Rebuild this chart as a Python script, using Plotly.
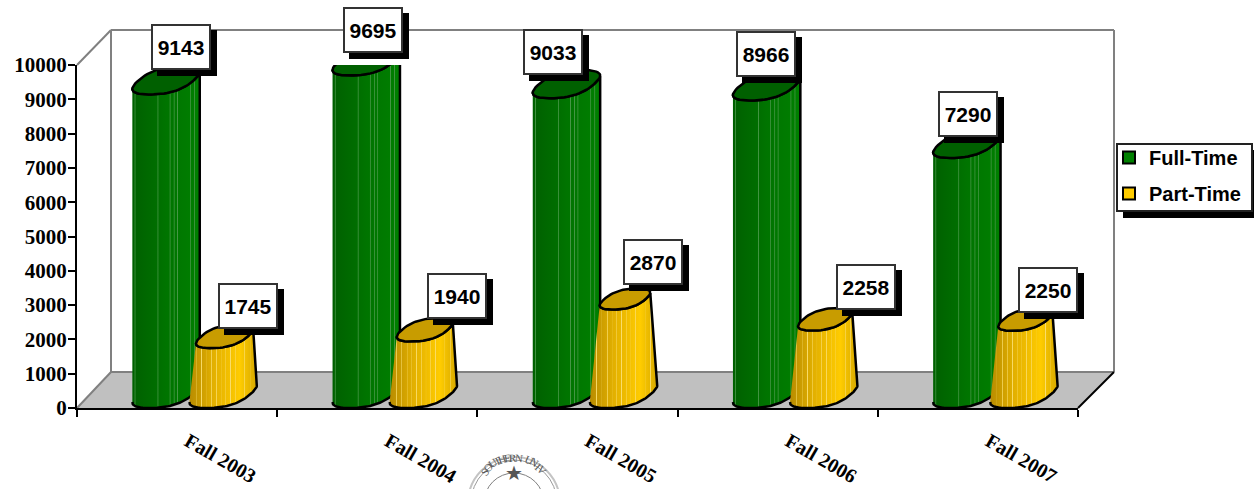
import numpy as np
import plotly.graph_objects as go

# Values
categories = ["Fall 2003", "Fall 2004", "Fall 2005", "Fall 2006", "Fall 2007"]
full_time = [9143, 9695, 9033, 8966, 7290]
part_time = [1745, 1940, 2870, 2258, 2250]
y_ticks = [0, 1000, 2000, 3000, 4000, 5000, 6000, 7000, 8000, 9000, 10000]

# Label box offsets from the bar's front top, in pixels
full_dx = [15, 7, -13, -1, 1]
full_dy = [47, 45, 46, 46, 44]
part_dx = [25, 34, 29, 42, 24]
part_dy = [42, 45, 48, 44, 41]

# Plot area in pixels
W, H = 1254, 489
LEFT, RIGHT, TOP, BOTTOM = 77, 1078, 65, 408
PX_X = 5 / (RIGHT - LEFT)  # x units per pixel
PX_Y = 10000 / (BOTTOM - TOP)  # y units per pixel
DEPTH_X, DEPTH_Y = 34, 36

FONT_SANS = "Liberation Sans"
FONT_SERIF = "Liberation Serif"


def paper_x(px):
    return (px - LEFT) / (RIGHT - LEFT)


def paper_y(py):
    return (BOTTOM - py) / (BOTTOM - TOP)


def path(points):
    return "M" + " L".join(f"{paper_x(a):.5f},{paper_y(b):.5f}" for a, b in points) + " Z"


def arc(cx, level, scale, t0, t1):
    # squarish sheared ellipse for the bar caps, level is its front edge
    t = np.radians(np.linspace(t0, t1, 60))
    c = np.sign(np.cos(t)) * np.abs(np.cos(t)) ** 0.8
    s = np.sign(np.sin(t)) * np.abs(np.sin(t)) ** 0.8
    xs = cx + scale * (27.5 * PX_X * c + 16 * PX_X * s)
    ys = level + scale * 14 * PX_Y * (1 + s)
    return xs, ys


def stripes(base, light, places):
    # horizontal gradient with thin pale lines over it
    xs = [s[0] for s in base]
    rgb = np.array([s[1] for s in base], dtype=float)
    out = []
    for p, w in places:
        for q in (p - w, p + w):
            col = [np.interp(q, xs, rgb[:, i]) for i in range(3)]
            out.append((q, col))
        out.append((p, light))
    for s in base:
        out.append((s[0], s[1]))
    out.sort(key=lambda v: v[0])
    return [[float(a), "rgb(%d,%d,%d)" % tuple(c)] for a, c in out]


green_scale = stripes(
    [(0, (0, 96, 0)), (0.5, (0, 116, 0)), (1, (0, 128, 0))],
    (70, 150, 70),
    [(0.04, 0.012), (0.38, 0.012), (0.56, 0.012), (0.62, 0.012), (0.67, 0.012), (0.86, 0.012), (0.92, 0.012)],
)
yellow_scale = stripes(
    [(0, (184, 140, 0)), (0.35, (226, 176, 0)), (0.75, (255, 204, 0)), (1, (214, 168, 0))],
    (250, 222, 110),
    [(x, 0.008) for x in (0.1, 0.18, 0.26, 0.33, 0.4, 0.47, 0.54, 0.61, 0.68, 0.82, 0.9)],
)


def add_bar(fig, start, value, scale_map, top_color, taper):
    cx = start + 34 * PX_X
    shrink = 1 - value / 11500 if taper else 1
    top_cx = cx + (1.5 * PX_X if taper else 0)
    bx, by = arc(cx, 0, 1, 210, 390)
    tx, ty = arc(top_cx, value, shrink, 390, 210)
    fig.add_trace(go.Scatter(
        x=np.r_[bx, tx], y=np.r_[by, ty], mode="lines", fill="toself",
        fillgradient=dict(type="horizontal", colorscale=scale_map),
        line=dict(color="black", width=2.5), showlegend=False, hoverinfo="skip", cliponaxis=False,
    ))
    ex, ey = arc(top_cx, value, shrink, 0, 360)
    fig.add_trace(go.Scatter(
        x=ex, y=ey, mode="lines", fill="toself", fillcolor=top_color,
        line=dict(color="black", width=2.5), showlegend=False, hoverinfo="skip", cliponaxis=False,
    ))


def add_label(fig, xpos, value, dx, dy):
    common = dict(x=xpos, y=value, xref="x", yref="y", showarrow=False, width=56, height=42, borderpad=0, borderwidth=2)
    fig.add_annotation(text=" ", bgcolor="black", bordercolor="black",
                       xshift=dx + 6, yshift=dy - 6, **common)
    fig.add_annotation(text=str(value), bgcolor="white", bordercolor="#333333",
                       font=dict(family=FONT_SANS, size=21, color="black", weight="bold"),
                       xshift=dx, yshift=dy, **common)


fig = go.Figure()

for i in range(len(categories)):
    add_bar(fig, i + 0.275, full_time[i], green_scale, "#006000", False)
for i in range(len(categories)):
    add_bar(fig, i + 0.56, part_time[i], yellow_scale, "#c89c00", True)

for i in range(len(categories)):
    add_label(fig, i + 0.275 + 34 * PX_X, full_time[i], full_dx[i], full_dy[i])
    add_label(fig, i + 0.56 + 34 * PX_X, part_time[i], part_dx[i], part_dy[i])

# Legend entries
fig.add_trace(go.Scatter(x=[None], y=[None], mode="markers", name="Full-Time", legendgroup="full",
                         marker=dict(symbol="square", size=15, color="#008000", line=dict(color="black", width=2))))
fig.add_trace(go.Scatter(x=[None], y=[None], mode="markers", name="Part-Time", legendgroup="part",
                         marker=dict(symbol="square", size=15, color="#ffcc00", line=dict(color="black", width=2))))

# Walls and floor of the 3D box
back_l, back_r, back_t, back_b = LEFT + DEPTH_X, RIGHT + DEPTH_X + 2, TOP - DEPTH_Y + 1, BOTTOM - DEPTH_Y
wall_line = dict(color="#808080", width=2)
shapes = [
    dict(type="path", xref="paper", yref="paper", layer="below", fillcolor="#c0c0c0", line=dict(width=0),
         path=path([(LEFT, BOTTOM), (back_l, back_b), (back_r, back_b), (RIGHT, BOTTOM)])),
]
for a, b, style in [
    ((LEFT, TOP), (back_l, back_t), wall_line),
    ((back_l, back_t), (back_r, back_t), wall_line),
    ((back_l, back_t), (back_l, back_b), wall_line),
    ((back_r, back_t), (back_r, back_b), wall_line),
    ((back_l, back_b), (back_r, back_b), wall_line),
    ((LEFT, BOTTOM), (back_l, back_b), wall_line),
    ((RIGHT, BOTTOM), (back_r, back_b), dict(color="black", width=2)),
]:
    shapes.append(dict(type="line", xref="paper", yref="paper", layer="below", line=style,
                       x0=paper_x(a[0]), y0=paper_y(a[1]), x1=paper_x(b[0]), y1=paper_y(b[1])))

# Legend frame and shadow, the legend itself sits on top without a box
shapes.append(dict(type="rect", xref="paper", yref="paper", layer="above", fillcolor="black", line=dict(width=0),
                   x0=paper_x(1123), x1=paper_x(1254), y0=paper_y(150), y1=paper_y(218)))
shapes.append(dict(type="rect", xref="paper", yref="paper", layer="above", fillcolor="white",
                   line=dict(color="#222222", width=2),
                   x0=paper_x(1117), x1=paper_x(1252), y0=paper_y(144), y1=paper_y(211)))

# University seal, cut off by the page bottom
SEAL_X, SEAL_Y = 514, 503
for r, col, lw in [(46, "#c4c4c4", 2), (43, "#9a9a9a", 1), (30, "#808080", 1)]:
    shapes.append(dict(type="circle", xref="paper", yref="paper", layer="below", line=dict(color=col, width=lw),
                       x0=paper_x(SEAL_X - r), x1=paper_x(SEAL_X + r), y0=paper_y(SEAL_Y - r), y1=paper_y(SEAL_Y + r)))
fig.update_layout(shapes=shapes)

seal_text = "SOUTHERN UNIV"
for i, ch in enumerate(seal_text):
    ang = -53 + i * 8.6
    fig.add_annotation(
        text=ch, showarrow=False, xref="paper", yref="paper", textangle=ang,
        x=paper_x(SEAL_X + 36.5 * np.sin(np.radians(ang))), y=paper_y(SEAL_Y - 36.5 * np.cos(np.radians(ang))),
        font=dict(family=FONT_SERIF, size=11, color="#555555"),
    )
fig.add_annotation(text="★", showarrow=False, xref="paper", yref="paper", x=paper_x(SEAL_X), y=paper_y(488),
                   font=dict(size=20, color="#555555"))

fig.update_layout(
    width=W, height=H,
    margin=dict(l=LEFT, r=W - RIGHT, t=TOP, b=H - BOTTOM, pad=0, autoexpand=False),
    paper_bgcolor="white", plot_bgcolor="rgba(0,0,0,0)",
    hovermode=False,
    xaxis=dict(
        range=[0, 5], tickmode="array", tickvals=[i + 0.555 for i in range(5)], ticktext=categories,
        tickangle=30, ticks="", ticklabelstandoff=12, showgrid=False, zeroline=False,
        showline=True, linecolor="black", linewidth=2,
        tickfont=dict(family=FONT_SERIF, size=20, color="black", weight="bold"),
        minor=dict(tickmode="array", tickvals=[0, 1, 2, 3, 4, 5], ticks="outside", ticklen=7, tickwidth=2,
                   tickcolor="black", showgrid=False),
    ),
    yaxis=dict(
        range=[0, 10000], tickmode="array", tickvals=y_ticks, ticktext=[str(v) for v in y_ticks],
        ticks="outside", ticklen=7, tickwidth=2, ticklabelstandoff=-3,
        tickcolor="black", showgrid=False, zeroline=False, showline=True, linecolor="black", linewidth=2,
        tickfont=dict(family=FONT_SERIF, size=21, color="black", weight="bold"),
    ),
    legend=dict(
        x=paper_x(1118), y=paper_y(138), xanchor="left", yanchor="top",
        bgcolor="rgba(0,0,0,0)", borderwidth=0,
        font=dict(family=FONT_SANS, size=20, color="black", weight="bold"),
        itemsizing="constant", indentation=-9, traceorder="grouped", tracegroupgap=7,
        entrywidth=100, entrywidthmode="pixels",
    ),
)

fig.write_html("out.html", config=dict(displayModeBar=False),
               post_script="document.body.style.margin='0';document.body.style.overflow='hidden';")
